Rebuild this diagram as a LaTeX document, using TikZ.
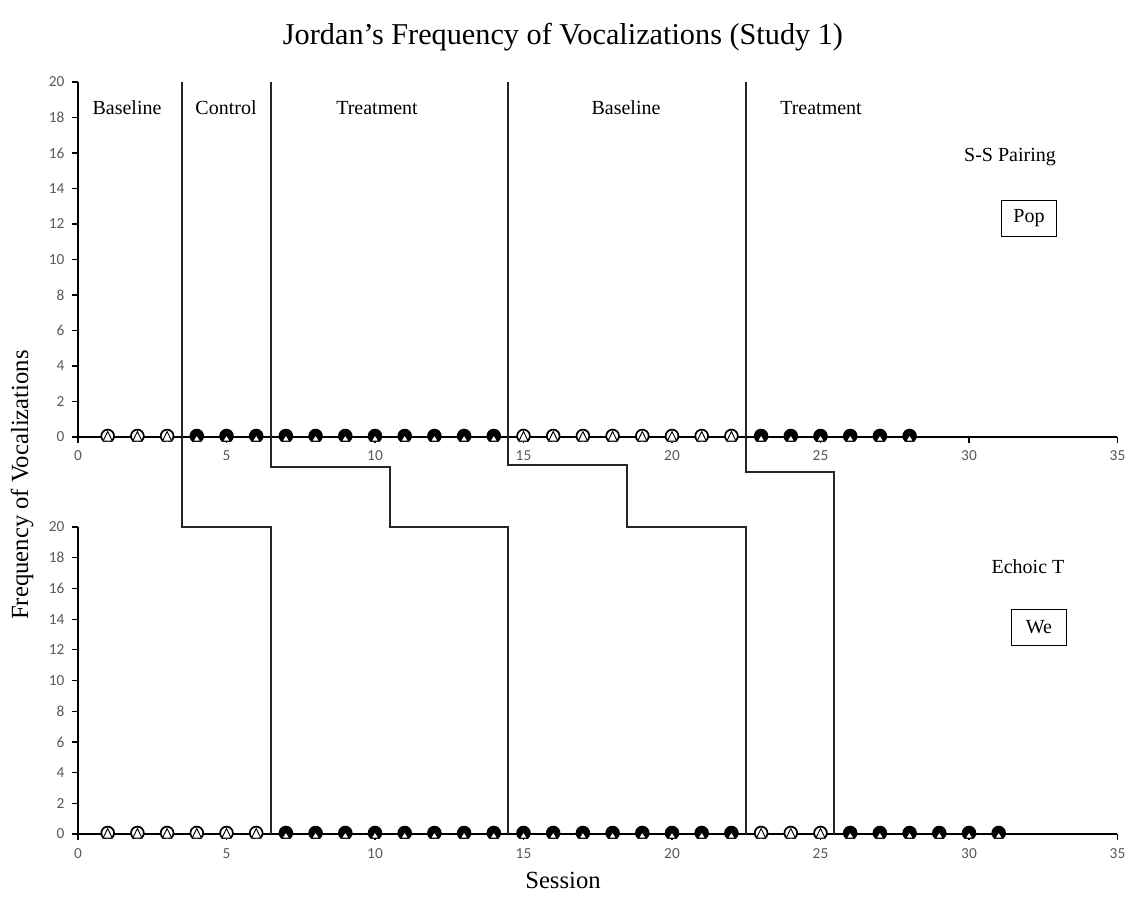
\documentclass[tikz,border=0pt]{standalone}
\usepackage{fontspec}
\setmainfont{Liberation Serif}
\newfontfamily\calib{Carlito}
\definecolor{tickgray}{HTML}{595959}
\tikzset{
  axisline/.style={line width=0.9pt, black},
  dataline/.style={line width=2pt, black},
  phaseline/.style={line width=0.95pt, black!85},
  ticklab/.style={font=\calib\fontsize{11.5}{13}\selectfont, text=tickgray, inner sep=1pt},
  phaselab/.style={font=\fontsize{15}{17}\selectfont, inner sep=0pt},
  condlab/.style={font=\fontsize{15}{17}\selectfont, inner sep=0pt},
  targetbox/.style={draw, line width=0.7pt, font=\fontsize{15}{17}\selectfont, minimum width=55*0.75pt, minimum height=36*0.75pt, inner sep=0pt},
  mkopen/.pic={
    \begin{scope}
      \clip (-9,-10) rectangle (9,4.6);
      \draw[fill=white, line width=1.3pt] (0,-1) circle [radius=4.8pt];
      \draw[fill=white, line width=0.7pt] (-4.6,4) -- (4.6,4) -- (0,-5.5) -- cycle;
    \end{scope}},
  mkfill/.pic={
    \begin{scope}
      \clip (-9,-10) rectangle (9,4.6);
      \draw[fill=black, line width=1.3pt] (0,-1) circle [radius=4.8pt];
      \draw[fill=white, line width=0.7pt] (-3.8,4) -- (3.8,4) -- (0,-2) -- cycle;
    \end{scope}}
}
\begin{document}
\begin{tikzpicture}[x=0.75pt,y=-0.75pt]
\useasboundingbox (0,0) rectangle (1127,896);
% title
\node[font=\fontsize{22.7}{26}\selectfont] (title) at (563,37) {Jordan’s Frequency of Vocalizations (Study 1)};
\node[font=\fontsize{18.5}{20}\selectfont, rotate=90] (ylab) at (22,485) {Frequency of Vocalizations};
\node[font=\fontsize{18.5}{20}\selectfont] (xlab) at (563,880) {Session};

% ---------- top chart axes ----------
\coordinate (tO) at (78,437);
\coordinate (tY) at (78,82);
\coordinate (tX) at (1117,437);
\draw[axisline] (tY) -- (tO) -- (tX);
\foreach \v in {0,2,...,20}{
  \draw[axisline] ({72},{437-\v*17.75}) -- ({78},{437-\v*17.75});
  \node[ticklab, anchor=east] (ty\v) at ({66},{437-\v*17.75}) {\v};
}
\foreach \s in {0,5,...,35}{
  \draw[axisline] ({78+29.7*\s},437) -- ({78+29.7*\s},443);
  \node[ticklab] (tx\s) at ({78+29.7*\s},456) {\s};
}
% ---------- bottom chart axes ----------
\coordinate (bO) at (78,834);
\coordinate (bY) at (78,527);
\coordinate (bX) at (1117,834);
\draw[axisline] (bY) -- (bO) -- (bX);
\foreach \v in {0,2,...,20}{
  \draw[axisline] ({72},{834-\v*15.35}) -- ({78},{834-\v*15.35});
  \node[ticklab, anchor=east] (by\v) at ({66},{834-\v*15.35}) {\v};
}
\foreach \s in {0,5,...,35}{
  \draw[axisline] ({78+29.7*\s},834) -- ({78+29.7*\s},840);
  \node[ticklab] (bx\s) at ({78+29.7*\s},854) {\s};
}

% ---------- data lines ----------
\coordinate (d4) at ({78+29.7*4},437);
\coordinate (d14) at ({78+29.7*14},437);
\coordinate (d23) at ({78+29.7*23},437);
\coordinate (d28) at ({78+29.7*28},437);
\draw[dataline] (d4) -- (d14);
\draw[dataline] (d23) -- (d28);

% ---------- phase change lines ----------
\coordinate (pA1) at (182,82);   \coordinate (pA2) at (182,527);
\coordinate (pA3) at (271,527);  \coordinate (pA4) at (271,834);
\draw[phaseline] (pA1) -- (pA2) -- (pA3) -- (pA4);
\coordinate (pB1) at (271,82);   \coordinate (pB2) at (271,467);
\coordinate (pB3) at (390,467);  \coordinate (pB4) at (390,527);
\coordinate (pB5) at (508,527);  \coordinate (pB6) at (508,834);
\draw[phaseline] (pB1) -- (pB2) -- (pB3) -- (pB4) -- (pB5) -- (pB6);
\coordinate (pC1) at (508,82);   \coordinate (pC2) at (508,465);
\coordinate (pC3) at (627,465);  \coordinate (pC4) at (627,527);
\coordinate (pC5) at (746,527);  \coordinate (pC6) at (746,834);
\draw[phaseline] (pC1) -- (pC2) -- (pC3) -- (pC4) -- (pC5) -- (pC6);
\coordinate (pD1) at (746,82);   \coordinate (pD2) at (746,472);
\coordinate (pD3) at (834,472);  \coordinate (pD4) at (834,834);
\draw[phaseline] (pD1) -- (pD2) -- (pD3) -- (pD4);

% ---------- markers top ----------
\foreach \s in {1,2,3,15,16,17,18,19,20,21,22}{
  \pic at ({78+29.7*\s},437) {mkopen};
}
\foreach \s in {4,...,14,23,24,25,26,27,28}{
  \pic at ({78+29.7*\s},437) {mkfill};
}
% ---------- markers bottom ----------
\foreach \s in {1,...,6,23,24,25}{
  \pic at ({78+29.7*\s},834) {mkopen};
}
\foreach \s in {7,...,22,26,27,28,29,30,31}{
  \pic at ({78+29.7*\s},834) {mkfill};
}

% ---------- phase labels ----------
\node[phaselab] (l1) at (127,108) {Baseline};
\node[phaselab] (l2) at (226,108) {Control};
\node[phaselab] (l3) at (377,108) {Treatment};
\node[phaselab] (l4) at (626,108) {Baseline};
\node[phaselab] (l5) at (821,108) {Treatment};

% ---------- condition labels ----------
\node[condlab] (c1) at (1010,157) {S-S Pairing};
\node[targetbox] (t1) at (1029,218) {Pop};
\node[condlab] (c2) at (1028,567) {Echoic T};
\node[targetbox] (t2) at (1039,627) {We};
\end{tikzpicture}
\end{document}
